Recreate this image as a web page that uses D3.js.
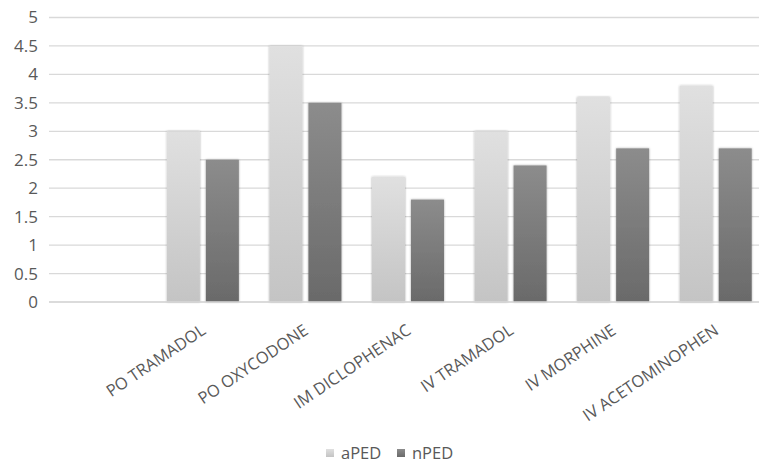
<!DOCTYPE html>
<html><head><meta charset="utf-8">
<script src="https://cdn.jsdelivr.net/npm/d3@7"></script>
<style>body{margin:0;background:#fff;} svg{display:block;} text{font-family:"Open Sans","Liberation Sans",sans-serif;fill:#595959;}</style>
</head><body><svg id="c" width="759" height="465"></svg>
<script>
const categories = ["", "PO TRAMADOL", "PO OXYCODONE", "IM DICLOPHENAC", "IV TRAMADOL", "IV MORPHINE", "IV ACETOMINOPHEN"];
const seriesNames = ["aPED", "nPED"];
const aPED = [null, 3, 4.5, 2.2, 3, 3.6, 3.8];
const nPED = [null, 2.5, 3.5, 1.8, 2.4, 2.7, 2.7];
const yTicks = [0, 0.5, 1, 1.5, 2, 2.5, 3, 3.5, 4, 4.5, 5];

const svg = d3.select("#c");
const defs = svg.append("defs");
function grad(id, c1, c2){
  const g = defs.append("linearGradient").attr("id", id).attr("x1",0).attr("y1",0).attr("x2",0).attr("y2",1);
  g.append("stop").attr("offset","0%").attr("stop-color",c1);
  g.append("stop").attr("offset","100%").attr("stop-color",c2);
}
grad("gA", "#e0e0e0", "#c4c4c4");
grad("gN", "#8c8c8c", "#6a6a6a");
const f = defs.append("filter").attr("id","sh").attr("x","-20%").attr("y","-5%").attr("width","140%").attr("height","110%");
f.append("feDropShadow").attr("dx",0).attr("dy",0).attr("stdDeviation",1.2).attr("flood-color","#000").attr("flood-opacity",0.35);

const x0 = d3.scaleBand().domain(categories.map((d,i)=>i)).range([49, 767]).paddingInner(0).paddingOuter(0);
const y = d3.scaleLinear().domain([0,5]).range([302, 17.5]);
const bw = 33, gap = 6;

const grid = svg.append("g");
grid.selectAll("line").data(yTicks).join("line")
  .attr("x1", 49).attr("x2", 759)
  .attr("y1", d=>y(d)).attr("y2", d=>y(d))
  .attr("stroke", "#d9d9d9").attr("stroke-width", 1.3);

const yAxis = svg.append("g").attr("transform","translate(38,0)")
  .call(d3.axisLeft(y).tickValues(yTicks).tickSize(0).tickPadding(0).tickFormat(d3.format("")));
yAxis.select(".domain").remove();
yAxis.selectAll("text").attr("font-size", 17).style("fill","#595959").attr("font-family","'Open Sans','Liberation Sans',sans-serif");

const series = [{name:"aPED", vals:aPED, fill:"url(#gA)"},{name:"nPED", vals:nPED, fill:"url(#gN)"}];
series.forEach((s, si) => {
  svg.append("g").selectAll("rect").data(s.vals.map((v,i)=>({v,i})).filter(d=>d.v!=null)).join("rect")
    .attr("x", d => x0(d.i) + x0.bandwidth()/2 + (si===0 ? -(bw + gap/2) : gap/2))
    .attr("width", bw)
    .attr("y", d => y(d.v))
    .attr("height", d => y(0) - y(d.v))
    .attr("fill", s.fill)
    .attr("filter", "url(#sh)");
});

svg.append("line").attr("x1",49).attr("x2",759).attr("y1",y(0)).attr("y2",y(0)).attr("stroke","#d9d9d9").attr("stroke-width",1.3);

const xAxis = svg.append("g").attr("transform", `translate(0,${y(0)})`)
  .call(d3.axisBottom(x0).tickSize(0).tickFormat(i=>categories[i]));
xAxis.select(".domain").remove();
xAxis.selectAll("text")
  .attr("font-size", 16.5).style("fill","#595959")
  .attr("font-family","'Open Sans','Liberation Sans',sans-serif")
  .attr("text-anchor","end")
  .attr("dy", 0)
  .attr("transform", "translate(4,31) rotate(-34)")
  .attr("y", 0).attr("x", 0);

const leg = svg.append("g");
const legendItems = [{name:seriesNames[0], fill:"url(#gA)", x:326},{name:seriesNames[1], fill:"url(#gN)", x:397}];
legendItems.forEach(d=>{
  leg.append("rect").attr("x", d.x).attr("y", 449).attr("width", 8).attr("height", 8).attr("fill", d.fill);
  leg.append("text").attr("x", d.x+15).attr("y", 459).attr("font-size", 16.5).text(d.name);
});
</script></body></html>
